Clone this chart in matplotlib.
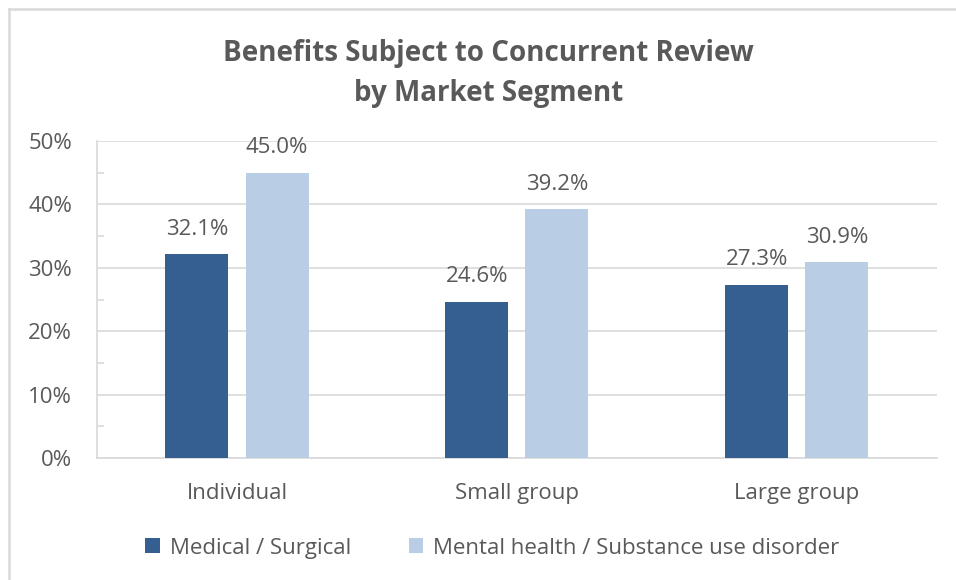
import matplotlib.pyplot as plt
import matplotlib.lines as mlines
import numpy as np

# data
categories = ["Individual", "Small group", "Large group"]
series_names = ["Medical / Surgical", "Mental health / Substance use disorder"]
medical = [32.1, 24.6, 27.3]
mental = [45.0, 39.2, 30.9]
yticks = [0, 10, 20, 30, 40, 50]

dark = "#355F91"
light = "#B9CDE5"
txt = "#595959"
grid = "#D9D9D9"

plt.rcParams['font.family'] = ['Open Sans', 'DejaVu Sans']
fs = 16

fig = plt.figure(figsize=(9.56, 5.8), dpi=100)
ax = fig.add_axes([0.1015, 0.2103, 0.8785, 0.5466])

x = np.arange(len(categories))
w = 0.225
off = 0.143
b1 = ax.bar(x - off, medical, w, color=dark, label=series_names[0], zorder=3)
b2 = ax.bar(x + off, mental, w, color=light, label=series_names[1], zorder=3)

for bars, vals in ((b1, medical), (b2, mental)):
    for rect, v in zip(bars, vals):
        ax.text(rect.get_x() + rect.get_width() / 2, v + 2.3, f"{v:.1f}%",
                ha='center', va='bottom', fontsize=fs, color=txt)

ax.set_xlim(-0.5, 2.5)
ax.set_ylim(0, 50)
ax.set_yticks(yticks)
ax.set_yticklabels([f"{t}%" for t in yticks], fontsize=fs, color=txt)
ax.set_yticks(np.arange(5, 50, 10), minor=True)
ax.set_xticks(x)
ax.set_xticklabels(categories, fontsize=fs, color=txt)
ax.tick_params(axis='x', length=0, pad=18)
ax.tick_params(axis='y', which='major', length=0, pad=18)
ax.tick_params(axis='y', which='minor', length=5, direction='in', color=grid, width=1.2)
ax.yaxis.grid(True, color=grid, linewidth=1.2, zorder=0)

for s in ('top', 'right'):
    ax.spines[s].set_visible(False)
for s in ('left', 'bottom'):
    ax.spines[s].set_color(grid)
    ax.spines[s].set_linewidth(1.2)

fig.text(0.511, 0.874, "Benefits Subject to Concurrent Review\nby Market Segment",
         ha='center', va='center', fontsize=20, fontweight='bold', color=txt,
         linespacing=1.5)

leg = fig.legend(handles=[b1, b2], loc='center', bbox_to_anchor=(0.515, 0.055),
                 ncol=2, frameon=False, fontsize=fs, handlelength=0.65,
                 handleheight=0.65, handletextpad=0.45, columnspacing=2.6)
for t in leg.get_texts():
    t.set_color(txt)

# outer frame (top and left edges visible)
fig.add_artist(mlines.Line2D([9 / 956, 9 / 956], [0, 1 - 9 / 580],
                             transform=fig.transFigure, color=grid, linewidth=1.8))
fig.add_artist(mlines.Line2D([9 / 956, 1], [1 - 9 / 580, 1 - 9 / 580],
                             transform=fig.transFigure, color=grid, linewidth=1.8))

fig.savefig("out.png", dpi=100, facecolor='white')
